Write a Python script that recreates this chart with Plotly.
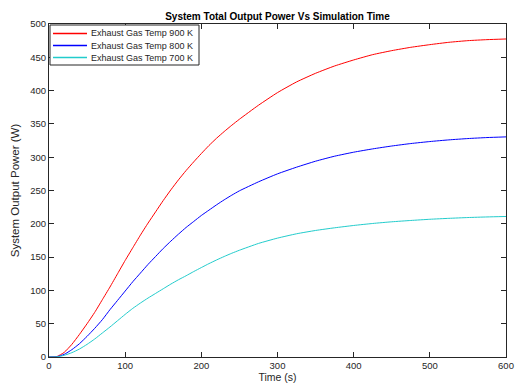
import plotly.graph_objects as go

time_s = [0, 10, 20, 30, 40, 50, 60, 70, 80, 90, 100, 110, 120, 130, 140, 150, 160, 170, 180, 190,
          200, 210, 220, 230, 240, 250, 275, 300, 325, 350, 375, 400, 425, 450, 475, 500, 525,
          550, 575, 600]
power_900 = [0, 0.5, 7, 19, 34, 50, 67, 86, 105, 125, 145, 164, 183, 201, 218, 235, 251, 266, 280,
             293, 305.5, 317.5, 328.5, 338.5, 348, 357, 378, 397, 413, 426, 437, 446, 454, 460,
             465, 469, 472.5, 475, 476.5, 477.5]
power_800 = [0, 0.3, 4, 11, 20, 31, 43, 56, 71, 85, 99, 113, 126, 139, 151, 163, 174, 184.5, 194.5,
             203.5, 212.5, 220.5, 228.5, 236, 243, 249.5, 263, 275, 285, 294, 301.5, 307.5, 312.5,
             316.8, 320.5, 323.5, 326, 328, 329.5, 330.5]
power_700 = [0, 0.2, 2.5, 6.5, 12, 19, 27, 36, 45, 54.5, 64, 73, 81, 88.5, 95.5, 102.5, 109.5, 116,
             122, 128.3, 134.3, 140.2, 145.7, 150.9, 155.8, 160.3, 170.5, 178.5, 185, 190, 194,
             197.5, 200.5, 203, 205, 206.8, 208.2, 209.4, 210.3, 211]

series_names = ["Exhaust Gas Temp 900 K", "Exhaust Gas Temp 800 K", "Exhaust Gas Temp 700 K"]
series_values = [power_900, power_800, power_700]
series_colors = ["rgb(255,0,0)", "rgb(0,0,255)", "rgb(34,204,204)"]

x_ticks = [0, 100, 200, 300, 400, 500, 600]
y_ticks = [0, 50, 100, 150, 200, 250, 300, 350, 400, 450, 500]

font_family = "Liberation Sans, Arial, Helvetica, sans-serif"
axis_color = "#262626"

fig = go.Figure()
for name, vals, color in zip(series_names, series_values, series_colors):
    fig.add_trace(go.Scatter(x=time_s, y=vals, mode="lines", name=name, showlegend=False,
                             line=dict(color=color, width=1, shape="spline", smoothing=0.5)))

axis_common = dict(showline=True, linecolor=axis_color, linewidth=1, mirror="ticks",
                   ticks="inside", ticklen=5, tickcolor=axis_color, tickwidth=1,
                   showgrid=False, zeroline=False, automargin=False,
                   tickfont=dict(family=font_family, size=9.5, color=axis_color))

# Compact MATLAB-style legend box
plot_w, plot_h = 457, 333
box_left, box_right, box_top, box_bottom = 1, 150, 1, 41
shapes = [dict(type="rect", xref="paper", yref="paper",
               x0=box_left / plot_w, x1=box_right / plot_w,
               y0=1 - box_bottom / plot_h, y1=1 - box_top / plot_h,
               line=dict(color=axis_color, width=1), fillcolor="white", layer="above")]
annotations = []
for i, (name, color) in enumerate(zip(series_names, series_colors)):
    yy = 1 - (9.5 + 12 * i) / plot_h
    shapes.append(dict(type="line", xref="paper", yref="paper", x0=4 / plot_w, x1=38 / plot_w,
                       y0=yy, y1=yy, line=dict(color=color, width=1.3), layer="above"))
    annotations.append(dict(text=name, xref="paper", yref="paper", x=40 / plot_w, y=yy,
                            xanchor="left", yanchor="middle", showarrow=False,
                            font=dict(family=font_family, size=9, color=axis_color)))

fig.update_layout(
    width=518, height=385,
    margin=dict(l=49, r=12, t=24, b=28),
    paper_bgcolor="white", plot_bgcolor="white",
    font=dict(family=font_family, color=axis_color),
    title=dict(text="<b>System Total Output Power Vs Simulation Time</b>",
               x=0.5, xref="paper", y=1 - 16 / 385, yref="container", yanchor="middle",
               font=dict(family=font_family, size=10, color="black")),
    xaxis=dict(range=[0, 600], tickvals=x_ticks,
               title=dict(text="Time (s)", font=dict(family=font_family, size=10.5, color=axis_color),
                          standoff=3),
               **axis_common),
    yaxis=dict(range=[0, 500], tickvals=y_ticks,
               title=dict(text="System Output Power (W)",
                          font=dict(family=font_family, size=11.5, color=axis_color), standoff=8),
               **axis_common),
    shapes=shapes,
    annotations=annotations,
    showlegend=False,
)

fig.write_html("out.html")
